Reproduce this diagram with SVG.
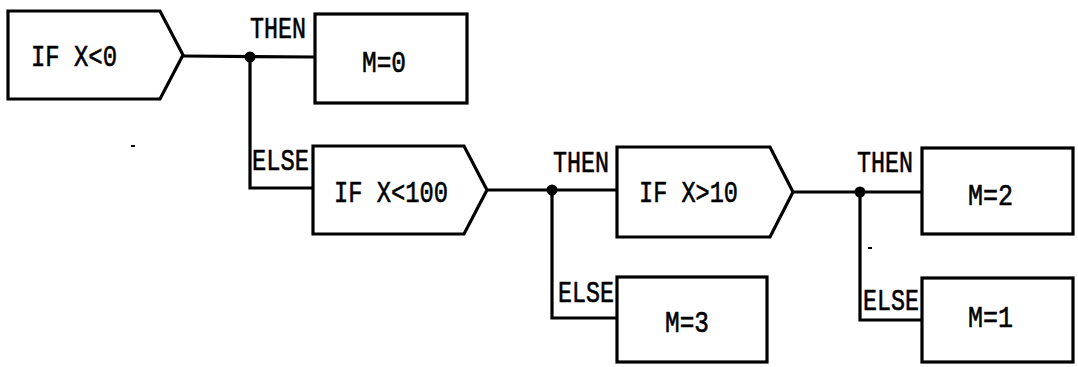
<svg xmlns="http://www.w3.org/2000/svg" width="1078" height="367" viewBox="0 0 1078 367">
<style>
.shape{fill:#fff;stroke:#000;stroke-width:3.2;stroke-linejoin:miter}
.conn{fill:none;stroke:#000;stroke-width:3.2}
.t{font-family:"Liberation Mono","DejaVu Sans Mono",monospace;font-size:30px;fill:#000;stroke:#000;stroke-width:0.6}
.dot{fill:#000}
</style>
<rect width="1078" height="367" fill="#fff"/>
<g id="connectors">
<path class="conn" d="M183,56 L315,57"/>
<path class="conn" d="M250,57 L250,188 L313,188"/>
<path class="conn" d="M487,190 L617,190"/>
<path class="conn" d="M552,190 L552,318 L617,318"/>
<path class="conn" d="M793,192 L922,192"/>
<path class="conn" d="M860,192 L860,320 L922,320"/>
<circle class="dot" cx="250" cy="57" r="5.5"/>
<circle class="dot" cx="552" cy="190" r="5.5"/>
<circle class="dot" cx="860" cy="192" r="5.5"/>
<text class="t" x="250" y="38" textLength="56" lengthAdjust="spacingAndGlyphs">THEN</text>
<text class="t" x="252" y="170" textLength="57" lengthAdjust="spacingAndGlyphs">ELSE</text>
<text class="t" x="553" y="172" textLength="56" lengthAdjust="spacingAndGlyphs">THEN</text>
<text class="t" x="558" y="302" textLength="56" lengthAdjust="spacingAndGlyphs">ELSE</text>
<text class="t" x="857" y="172" textLength="56" lengthAdjust="spacingAndGlyphs">THEN</text>
<text class="t" x="863" y="310" textLength="56" lengthAdjust="spacingAndGlyphs">ELSE</text>
</g>
<g id="n1">
<polygon class="shape" points="8,11 160,11 183,55 160,99 8,99"/>
<text class="t" x="31" y="66" textLength="86" lengthAdjust="spacingAndGlyphs">IF X&lt;0</text>
</g>
<g id="n2">
<rect class="shape" x="315" y="14" width="152" height="89"/>
<text class="t" x="362" y="72" textLength="44" lengthAdjust="spacingAndGlyphs">M=0</text>
</g>
<g id="n3">
<polygon class="shape" points="313,146 464,146 487,190 464,234 313,234"/>
<text class="t" x="334" y="202" textLength="114" lengthAdjust="spacingAndGlyphs">IF X&lt;100</text>
</g>
<g id="n4">
<polygon class="shape" points="617,147 770,147 793,192 770,237 617,237"/>
<text class="t" x="639" y="202" textLength="99" lengthAdjust="spacingAndGlyphs">IF X&gt;10</text>
</g>
<g id="n5">
<rect class="shape" x="617" y="277" width="150" height="85"/>
<text class="t" x="665" y="332" textLength="44" lengthAdjust="spacingAndGlyphs">M=3</text>
</g>
<g id="n6">
<rect class="shape" x="922" y="148" width="151" height="86"/>
<text class="t" x="968" y="205" textLength="45" lengthAdjust="spacingAndGlyphs">M=2</text>
</g>
<g id="n7">
<rect class="shape" x="922" y="278" width="151" height="84"/>
<text class="t" x="968" y="327" textLength="45" lengthAdjust="spacingAndGlyphs">M=1</text>
</g>
<rect x="131" y="145" width="4" height="2" fill="#000"/>
<rect x="868" y="247" width="4" height="2" fill="#000"/>
</svg>
